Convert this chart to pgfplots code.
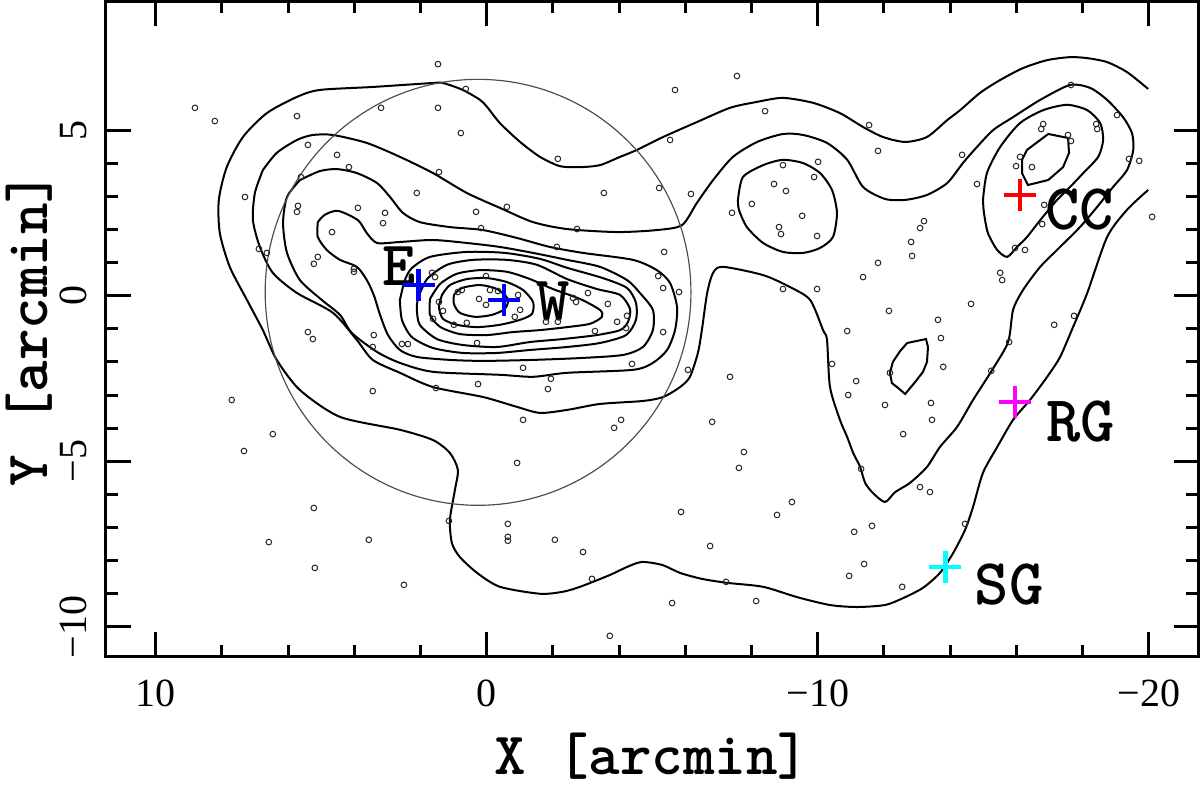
\documentclass[border=0pt]{standalone}
\usepackage{fontspec}
\setmainfont{Liberation Serif}
\usepackage{pgfplots}
\pgfplotsset{compat=1.18}
\definecolor{cblue}{RGB}{0,0,255}
\definecolor{cred}{RGB}{255,0,0}
\definecolor{cmag}{RGB}{255,0,255}
\definecolor{ccyan}{RGB}{0,255,255}
\pgfplotsset{cont/.style={black, line width=0.6pt, smooth, tension=0.45, mark=none}}
\begin{document}
\begin{tikzpicture}
\useasboundingbox (0,0) rectangle (360pt,236.1pt);
\begin{axis}[
  at={(31.68pt,39.09pt)}, anchor=south west,
  scale only axis, width=327.87pt, height=196.56pt,
  x dir=reverse,
  xmin=-21.50, xmax=11.51, ymin=-10.90, ymax=8.88,
  xtick={-20,-10,0,10}, xticklabels={−20,−10,0,10},
  ytick={-10,-5,0,5}, yticklabels={−10,−5,0,5},
  minor x tick num=4, minor y tick num=4,
  tick align=inside, tick pos=both,
  major tick length=7.5pt, minor tick length=3.6pt,
  every tick/.style={black, line width=0.9pt},
  axis line style={line width=1pt},
  ticklabel style={font=\fontsize{12}{12}\selectfont},
  xticklabel style={anchor=north, inner sep=0pt, outer sep=6.9pt},
  yticklabel style={rotate=90, anchor=south, inner sep=0pt, outer sep=5.7pt},
  xlabel={X [arcmin]}, ylabel={Y [arcmin]},
  label style={font=\fontsize{18}{18}\selectfont\ttfamily\bfseries},
  xlabel style={at={(axis description cs:0.5,-0.152)}, anchor=center, inner sep=0pt},
  ylabel style={at={(axis description cs:-0.07,0.5)}, anchor=center, inner sep=0pt},
]
% contour A (open, lowest level)
\addplot[cont] coordinates {(-19.98,6.24)(-19.34,6.75)(-18.74,7.05)(-18.14,7.17)(-17.62,7.20)(-16.93,7.11)(-16.20,6.87)(-15.51,6.51)(-14.90,6.12)(-14.30,5.60)(-13.91,5.30)(-13.30,4.79)(-12.64,4.64)(-11.97,4.79)(-11.37,5.09)(-10.67,5.51)(-9.86,5.82)(-8.95,5.97)(-8.17,5.85)(-7.35,5.67)(-6.35,5.24)(-5.33,4.79)(-4.54,4.40)(-4.03,4.19)(-3.42,3.94)(-2.82,3.88)(-2.21,3.91)(-1.61,4.19)(-1.01,4.64)(-0.40,5.21)(-0.01,5.70)(0.20,5.91)(0.72,6.21)(1.32,6.42)(1.62,6.42)(3.44,6.30)(5.04,6.21)(5.73,6.00)(6.64,5.51)(7.36,4.79)(7.85,3.88)(8.09,2.89)(8.06,1.89)(7.76,0.87)(7.24,-0.13)(6.76,-1.04)(6.34,-1.94)(5.64,-2.85)(4.43,-3.66)(2.62,-4.05)(1.62,-4.36)(1.11,-4.75)(0.87,-5.26)(0.96,-5.87)(1.11,-6.77)(1.05,-7.47)(0.81,-7.89)(0.29,-8.37)(-0.40,-8.79)(-1.61,-9.00)(-2.30,-8.94)(-2.82,-8.79)(-3.73,-8.43)(-4.24,-8.19)(-4.69,-8.04)(-5.30,-8.13)(-5.84,-8.37)(-6.50,-8.55)(-7.26,-8.67)(-8.35,-8.79)(-9.37,-9.10)(-10.37,-9.34)(-11.19,-9.40)(-12.03,-9.34)(-12.58,-9.13)(-13.18,-8.82)(-13.69,-8.37)(-14.09,-7.77)(-14.45,-7.07)(-14.69,-6.38)(-14.99,-5.35)(-15.42,-4.57)(-15.90,-3.75)(-16.41,-3.15)(-16.93,-2.45)(-17.32,-1.85)(-17.71,-0.95)(-18.14,0.08)(-18.74,1.77)(-19.34,2.59)(-19.98,3.19)};
% contour B
\addplot[cont] coordinates {(6.76,3.79)(6.34,4.31)(5.73,4.70)(5.25,4.85)(4.64,4.85)(3.62,4.61)(2.62,4.19)(1.62,3.70)(0.60,3.10)(-0.40,2.65)(-1.40,2.22)(-2.43,2.01)(-3.94,1.92)(-5.14,1.98)(-5.90,2.13)(-6.35,2.80)(-6.84,3.49)(-7.44,4.19)(-8.17,4.64)(-8.95,4.88)(-9.56,4.85)(-10.28,4.61)(-10.89,4.10)(-11.37,3.28)(-12.03,2.92)(-12.64,2.89)(-13.30,3.04)(-13.91,3.40)(-14.39,4.01)(-14.81,4.49)(-15.30,5.00)(-15.90,5.39)(-16.72,5.91)(-17.62,6.36)(-18.23,6.27)(-18.74,5.91)(-19.22,5.39)(-19.49,4.91)(-19.53,4.40)(-19.34,3.79)(-18.92,3.28)(-18.44,2.68)(-17.92,2.07)(-17.32,1.47)(-16.72,0.87)(-16.20,0.17)(-15.90,-0.43)(-15.75,-1.40)(-15.27,-2.24)(-14.69,-3.15)(-14.21,-3.96)(-13.69,-4.57)(-13.30,-5.17)(-12.79,-5.65)(-12.34,-5.93)(-12.03,-6.23)(-11.67,-5.96)(-11.43,-5.65)(-11.28,-5.17)(-11.07,-4.75)(-10.89,-4.27)(-10.67,-3.75)(-10.37,-2.76)(-10.28,-1.34)(-10.16,-1.04)(-9.77,-0.13)(-9.16,0.26)(-8.35,0.62)(-7.14,0.87)(-6.84,0.69)(-6.66,0.08)(-6.50,-1.04)(-6.38,-1.73)(-6.14,-2.45)(-5.84,-2.76)(-5.33,-3.06)(-4.72,-3.18)(-3.42,-3.27)(-2.43,-3.45)(-1.61,-3.54)(-0.92,-3.36)(0.11,-3.06)(1.62,-2.76)(2.62,-2.33)(3.44,-1.94)(3.92,-1.34)(4.64,-0.52)(5.73,0.08)(6.46,0.69)(6.85,1.47)(7.06,2.28)(7.00,3.10)(6.76,3.79)};
% contour 3
\addplot[cont] coordinates {(5.64,3.49)(5.04,3.76)(4.52,3.82)(3.92,3.70)(3.31,3.40)(2.92,2.98)(2.53,2.50)(2.02,2.22)(1.11,2.07)(0.11,1.98)(-0.92,1.74)(-1.91,1.47)(-2.91,1.29)(-4.42,1.08)(-5.14,0.77)(-5.54,0.38)(-5.75,-0.34)(-5.69,-1.04)(-5.45,-1.64)(-5.02,-2.03)(-4.42,-2.24)(-2.43,-2.33)(-1.40,-2.45)(-0.40,-2.39)(1.62,-2.30)(2.62,-2.03)(3.31,-1.70)(4.07,-1.13)(4.43,-0.58)(4.98,-0.13)(5.64,0.47)(6.03,1.29)(6.15,2.19)(6.03,2.98)(5.64,3.49)};
% contour 4
\addplot[cont] coordinates {(5.10,2.22)(4.89,2.44)(4.49,2.56)(3.89,2.28)(3.62,1.89)(3.31,1.59)(2.62,1.62)(1.62,1.68)(0.60,1.59)(-0.40,1.47)(-1.40,1.29)(-2.43,1.08)(-3.42,0.87)(-4.24,0.47)(-4.63,0.08)(-5.02,-0.43)(-5.02,-1.04)(-4.72,-1.55)(-4.12,-1.79)(-2.91,-1.88)(-1.40,-1.94)(0.11,-1.97)(1.11,-1.94)(2.11,-1.85)(2.62,-1.64)(2.98,-1.19)(3.22,-0.58)(3.41,0.02)(3.62,0.47)(3.92,0.87)(4.43,1.08)(4.83,1.38)(5.10,1.77)(5.10,2.22)};
% contour 5
\addplot[cont] coordinates {(2.62,-0.13)(2.47,0.47)(2.26,0.83)(1.71,1.17)(0.60,1.32)(-0.55,1.29)(-1.61,1.11)(-2.43,0.84)(-3.51,0.53)(-4.24,0.23)(-4.51,-0.22)(-4.51,-0.73)(-4.21,-1.19)(-3.42,-1.43)(-2.43,-1.55)(-1.31,-1.64)(-0.31,-1.73)(0.72,-1.73)(1.62,-1.58)(2.26,-1.25)(2.56,-0.73)(2.62,-0.13)};
% contour 6
\addplot[cont] coordinates {(2.08,-0.10)(1.80,0.50)(1.20,0.93)(0.41,1.08)(-0.61,1.08)(-1.52,0.93)(-2.43,0.50)(-3.33,0.20)(-4.03,0.02)(-4.33,-0.40)(-4.27,-0.79)(-4.03,-1.04)(-3.33,-1.19)(-2.30,-1.31)(-1.31,-1.40)(-0.31,-1.55)(0.72,-1.49)(1.50,-1.31)(2.02,-0.88)(2.11,-0.40)(2.08,-0.10)};
% contour 7
\addplot[cont] coordinates {(1.71,-0.10)(1.41,0.35)(0.90,0.66)(0.20,0.77)(-0.61,0.72)(-1.31,0.50)(-2.00,0.20)(-2.82,-0.10)(-3.42,-0.43)(-3.48,-0.64)(-3.12,-0.85)(-2.43,-0.95)(-1.61,-1.04)(-0.79,-1.10)(-0.01,-1.19)(0.81,-1.16)(1.41,-0.94)(1.71,-0.58)(1.71,-0.10)};
% contour 8
\addplot[cont] coordinates {(1.35,0.02)(1.11,0.32)(0.60,0.50)(-0.01,0.53)(-0.61,0.41)(-1.10,0.17)(-1.40,-0.19)(-1.37,-0.55)(-1.01,-0.73)(-0.40,-0.88)(0.29,-0.95)(0.90,-0.88)(1.32,-0.70)(1.44,-0.34)(1.35,0.02)};
% contour 9
\addplot[cont] coordinates {(0.99,0.02)(0.75,0.23)(0.20,0.32)(-0.31,0.20)(-0.64,-0.10)(-0.55,-0.40)(-0.16,-0.58)(0.35,-0.64)(0.81,-0.52)(0.99,-0.25)(0.99,0.02)};
% small contour near (-9,3)
\addplot[cont] coordinates {(-7.59,2.89)(-7.74,3.58)(-8.35,3.94)(-8.95,4.10)(-9.56,4.00)(-10.07,3.70)(-10.43,3.19)(-10.58,2.50)(-10.46,1.77)(-10.07,1.44)(-9.56,1.29)(-8.95,1.32)(-8.35,1.59)(-7.86,2.07)(-7.62,2.59)(-7.59,2.89)};
% small contour near (-12.7,-2.2)
\addplot[black, line width=0.6pt, mark=none] coordinates {(-12.70,-1.43)(-13.27,-1.31)(-13.33,-1.55)(-13.30,-2.00)(-13.18,-2.30)(-12.94,-2.61)(-12.64,-2.97)(-12.43,-2.79)(-12.24,-2.64)(-12.18,-2.33)(-12.27,-2.00)(-12.49,-1.67)(-12.70,-1.43)};
% CC contours
\addplot[cont] coordinates {(-14.99,2.89)(-15.11,3.70)(-15.51,4.49)(-16.11,5.21)(-16.81,5.60)(-17.53,5.76)(-18.14,5.60)(-18.53,5.21)(-18.62,4.70)(-18.47,4.19)(-18.02,3.70)(-17.62,3.28)(-17.23,2.89)(-16.72,2.28)(-16.32,1.77)(-16.02,1.47)(-15.72,1.17)(-15.42,1.38)(-15.14,1.89)(-15.02,2.50)(-14.99,2.89)};
\addplot[black, line width=0.6pt, mark=none] coordinates {(-16.32,4.40)(-16.96,4.88)(-17.56,4.76)(-17.59,4.31)(-17.41,3.88)(-16.96,3.49)(-16.35,3.34)(-16.17,3.70)(-16.17,4.10)(-16.32,4.40)};
% circle
\draw[black!70, line width=0.35pt] (axis cs:0.26,0.10) circle[radius=6.43];
% galaxies
\addplot[only marks, mark=o, mark size=0.85pt, black!85, mark options={line width=0.3pt}] coordinates {
(1.47,6.99)(0.63,6.24)(8.81,5.67)(8.21,5.27)(5.73,5.42)(3.19,5.67)(1.47,5.67)(0.78,4.91)(5.40,4.55)(4.52,4.25)(4.16,3.88)(1.44,3.73)(5.61,3.58)(7.30,2.98)(2.11,3.10)(5.70,2.71)(5.73,2.53)(3.89,2.65)(3.07,2.50)(3.13,2.19)(0.32,2.53)(0.17,2.04)(4.67,1.92)(6.88,1.41)(6.64,1.29)(5.10,1.17)(5.22,0.96)(4.01,0.81)(4.01,0.72)(1.65,0.69)(1.56,0.56)(0.02,0.59)(0.87,0.11)(0.75,0.17)(-0.10,0.17)(-0.34,0.14)(-0.95,0.02)(0.23,-0.10)(0.02,-0.28)(1.44,-0.19)(1.32,-0.46)(-1.01,-0.43)(-0.85,-0.64)(1.62,-0.70)(0.60,-0.82)(0.99,-0.88)(0.29,-1.43)(2.56,-1.46)(2.38,-1.46)(5.40,-1.10)(5.25,-1.31)(3.41,-1.19)(3.44,-1.55)(-2.12,1.47)(-3.06,0.08)(-2.61,-0.07)(-2.70,-0.19)(-3.66,-0.25)(-4.24,-0.61)(-3.94,-0.79)(-3.27,-1.07)(-4.21,-0.98)(-1.79,-0.79)(-2.15,-0.79)(-2.15,4.13)(-0.61,2.68)(-2.73,2.01)(-3.54,3.10)(-5.21,3.25)(-6.17,3.07)(-5.36,1.32)(-5.18,0.59)(-5.33,0.23)(-5.81,0.11)(-5.33,-1.10)(-6.08,-2.24)(-4.39,-2.06)(-1.10,-2.18)(-1.94,-2.51)(-1.85,-2.82)(0.26,-2.67)(1.53,-2.79)(3.44,-2.88)(-1.10,-3.75)(-4.06,-3.75)(-3.85,-3.99)(-0.92,-5.05)(7.70,-3.15)(6.46,-4.18)(7.33,-4.69)(5.22,-6.41)(-5.87,-6.53)(6.58,-7.44)(3.56,-7.37)(1.14,-6.80)(5.19,-8.22)(2.50,-8.73)(-0.64,-6.89)(-0.64,-7.28)(-0.64,-7.40)(-2.06,-7.37)(-2.91,-7.74)(-3.18,-8.55)(-5.60,-9.28)(-3.72,-10.27)(-6.75,-7.56)(-7.23,-8.64)(-8.14,-9.22)(-5.69,6.21)(-5.54,4.70)(-7.56,6.63)(-8.41,5.57)(-11.55,5.15)(-11.82,4.37)(-8.95,3.94)(-10.01,4.04)(-9.89,3.58)(-8.68,3.37)(-9.04,3.16)(-8.01,2.77)(-7.41,2.50)(-9.53,2.41)(-8.83,2.07)(-8.89,1.86)(-9.98,1.80)(-11.82,0.99)(-11.37,0.56)(-8.95,0.20)(-9.98,0.20)(-10.89,-1.07)(-10.43,-2.06)(-11.16,-2.58)(-10.92,-3.00)(-11.31,-5.23)(-7.35,-2.45)(-6.81,-3.81)(-7.77,-4.72)(-7.62,-5.20)(-9.22,-6.23)(-8.77,-6.62)(-11.64,-6.95)(-11.10,-7.13)(-11.40,-8.10)(-10.95,-8.46)(-12.55,-8.79)(-14.45,-6.89)(-13.09,-5.78)(-13.39,-5.93)(-12.58,-4.18)(-12.18,-2.33)(-12.03,-3.30)(-13.42,-3.24)(-13.45,-3.75)(-13.63,-0.73)(-13.72,-1.28)(-13.79,-2.15)(-12.15,-0.46)(-15.78,-1.40)(-15.24,-2.27)(-17.14,-0.88)(-17.74,-0.61)(-14.63,-0.25)(-15.51,0.69)(-15.57,0.47)(-12.82,1.62)(-12.85,1.20)(-13.09,2.04)(-13.21,2.25)(-15.96,1.44)(-16.26,1.38)(-16.78,2.16)(-16.84,2.74)(-14.81,3.37)(-14.36,4.25)(-16.11,4.19)(-15.99,3.91)(-16.47,3.88)(-19.40,4.13)(-19.71,4.07)(-20.10,2.38)(-17.65,6.36)(-19.04,5.45)(-16.81,5.18)(-16.75,5.03)(-18.41,5.18)(-18.44,5.03)(-17.56,4.85)(-17.65,4.67)};
% crosses
\addplot[only marks, mark=+, mark size=4.8pt, cblue, mark options={line width=1.4pt}] coordinates {(2.05,0.32)(-0.52,-0.13)};
\addplot[only marks, mark=+, mark size=4.8pt, cred, mark options={line width=1.4pt}] coordinates {(-16.11,3.04)};
\addplot[only marks, mark=+, mark size=4.8pt, cmag, mark options={line width=1.4pt}] coordinates {(-15.96,-3.21)};
\addplot[only marks, mark=+, mark size=4.8pt, ccyan, mark options={line width=1.4pt}] coordinates {(-13.85,-8.19)};
% labels
\node[font=\fontsize{19}{19}\selectfont\ttfamily\bfseries, inner sep=0pt] at (axis cs:2.65,0.90) {E};
\node[font=\fontsize{19}{19}\selectfont\ttfamily\bfseries, inner sep=0pt] at (axis cs:-2.02,-0.18) {W};
\node[font=\fontsize{19.6}{19.6}\selectfont\ttfamily\bfseries, inner sep=0pt] at (axis cs:-17.92,2.59) {CC};
\node[font=\fontsize{19.6}{19.6}\selectfont\ttfamily\bfseries, inner sep=0pt] at (axis cs:-17.95,-3.81) {RG};
\node[font=\fontsize{19.6}{19.6}\selectfont\ttfamily\bfseries, inner sep=0pt] at (axis cs:-15.78,-8.73) {SG};
\end{axis}
\end{tikzpicture}
\end{document}
